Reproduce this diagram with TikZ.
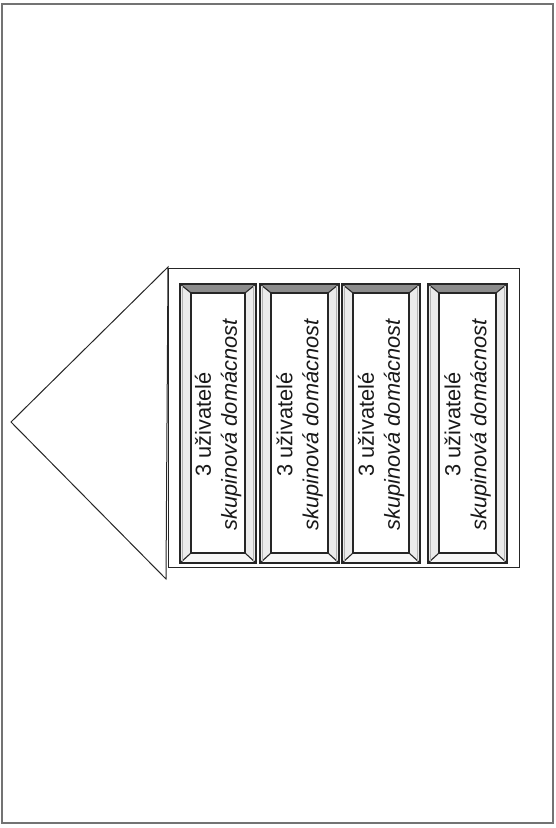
\documentclass[tikz,border=0pt]{standalone}
\usepackage{fontspec}
\setmainfont{Liberation Sans}
\begin{document}
\begin{tikzpicture}[x=1pt,y=-1pt,
  frame/.style={draw=black!55, line width=1.3pt},
  house/.style={draw=black!85, line width=1pt},
  bevline/.style={draw=black!85, line width=1.1pt},
  topface/.style={fill=black!45},
  sideface/.style={fill=black!8},
  botface/.style={fill=black!3},
  boxlabel/.style={rotate=90, align=center, inner sep=0pt,
    font=\fontsize{21.8}{26}\selectfont, text=black!90}]
\useasboundingbox (0,0) rectangle (556,828);
% outer frame
\draw[frame] (2,4) rectangle (553,823);
% house
\coordinate (apex) at (11,422);
\coordinate (rooftop) at (168,267);
\coordinate (roofbot) at (166,579);
\draw[house, line join=miter] (apex) -- (rooftop) -- (roofbot) -- cycle;
\draw[house] (168,268) rectangle (519,567);
% beveled boxes
\foreach \i/\xa/\xb in {1/180/256, 2/260/339, 3/342/420, 4/428/507}{
  \pgfmathsetmacro\ya{284}
  \pgfmathsetmacro\yb{563}
  \pgfmathsetmacro\xc{\xa+11}
  \pgfmathsetmacro\xd{\xb-11}
  \pgfmathsetmacro\yc{\ya+9}
  \pgfmathsetmacro\yd{\yb-10}
  \pgfmathsetmacro\xm{(\xa+\xb)/2}
  \pgfmathsetmacro\ym{(\ya+\yb)/2}
  \path[topface] (\xa,\ya) -- (\xb,\ya) -- (\xd,\yc) -- (\xc,\yc) -- cycle;
  \path[sideface] (\xa,\ya) -- (\xc,\yc) -- (\xc,\yd) -- (\xa,\yb) -- cycle;
  \path[sideface] (\xb,\ya) -- (\xd,\yc) -- (\xd,\yd) -- (\xb,\yb) -- cycle;
  \path[botface] (\xa,\yb) -- (\xb,\yb) -- (\xd,\yd) -- (\xc,\yd) -- cycle;
  \draw[bevline] (\xa,\ya) rectangle (\xb,\yb);
  \draw[bevline] (\xc,\yc) rectangle (\xd,\yd);
  \draw[bevline] (\xa,\ya) -- (\xc,\yc) (\xb,\ya) -- (\xd,\yc)
                 (\xa,\yb) -- (\xc,\yd) (\xb,\yb) -- (\xd,\yd);
  \draw[black!30, line width=0.5pt] (\xa+2.5,\ya+2) -- (\xa+2.5,\yb-2)
                                    (\xb-2.5,\ya+2) -- (\xb-2.5,\yb-2);
  \node[boxlabel] (box\i) at (\xm,\ym+1) {3 uživatelé\\\textit{skupinová domácnost}};
}
\end{tikzpicture}
\end{document}
